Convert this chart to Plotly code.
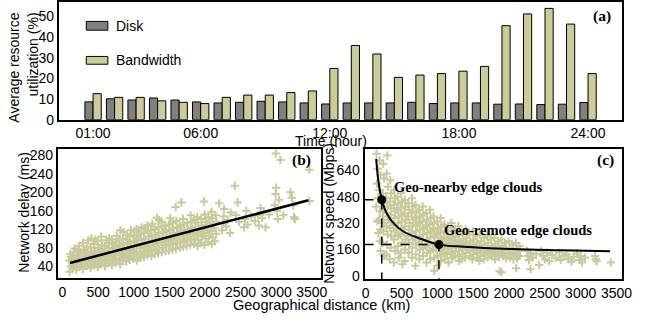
import plotly.graph_objects as go

# ---------------- (a) hourly resource utilization ----------------
hours = list(range(1, 25))
hour_tickvals = [1, 6, 12, 18, 24]
hour_ticktext = ["01:00", "06:00", "12:00", "18:00", "24:00"]
disk_util = [8.6, 10.1, 9.5, 10.5, 9.5, 8.6, 8.1, 8.4, 8.9, 8.6, 8.1, 7.6,
             8.1, 8.1, 8.1, 8.4, 7.8, 8.1, 8.1, 7.5, 7.6, 7.3, 7.5, 8.3]
bw_util = [12.6, 10.8, 10.8, 9.1, 8.4, 7.8, 10.8, 11.9, 11.9, 13.1, 13.9, 24.8,
           35.9, 31.8, 20.5, 21.6, 22.3, 23.5, 25.8, 45.5, 51.2, 53.9, 46.3, 22.3]
util_ticks = [0, 10, 20, 30, 40, 50]

# ---------------- (b) network delay vs distance ----------------
delay_km = [
    102, 118, 95, 124, 110,
    146, 162, 139, 155, 170,
    192, 208, 185, 214, 199, 221,
    243, 258, 236, 266, 249, 231,
    291, 309, 284, 316, 297, 305, 288,
    344, 359, 336, 366, 351, 340, 362,
    393, 410, 386, 417, 401, 395, 408,
    446, 458, 437, 466, 452, 441, 460,
    494, 511, 487, 503, 518, 497, 490,
    541, 559, 536, 566, 547, 553, 544,
    596, 609, 588, 614, 601, 592, 611,
    643, 657, 638, 662, 649, 646, 655,
    694, 712, 687, 705, 716, 698, 691,
    747, 758, 739, 766, 751, 744, 761,
    809, 796, 815, 789, 803, 798, 812,
    843, 859, 836, 866, 851, 847, 855,
    894, 911, 887, 905, 916, 898, 903,
    946, 958, 939, 964, 951, 943, 960,
    993, 1012, 986, 1005, 1017, 997, 1008,
    1044, 1061, 1037, 1055, 1048, 1066, 1041,
    1096, 1109, 1088, 1114, 1101, 1092, 1111,
    1143, 1157, 1138, 1162, 1149, 1146, 1155,
    1194, 1212, 1187, 1205, 1216, 1198, 1191,
    1247, 1258, 1239, 1266, 1251, 1244, 1261,
    1296, 1309, 1288, 1314, 1301, 1292, 1325,
    1343, 1357, 1338, 1362, 1349, 1346, 1355,
    1394, 1412, 1387, 1405, 1416, 1398, 1391,
    1447, 1458, 1439, 1466, 1451, 1444,
    1496, 1509, 1488, 1514, 1501, 1492, 1511,
    1543, 1557, 1538, 1562, 1549, 1546,
    1594, 1612, 1587, 1605, 1616, 1598, 1590,
    1647, 1658, 1639, 1666, 1651, 1670,
    1696, 1709, 1688, 1714, 1701, 1692,
    1743, 1757, 1738, 1762, 1749,
    1794, 1812, 1787, 1805, 1816, 1798,
    1847, 1858, 1839, 1866, 1851,
    1896, 1909, 1888, 1914, 1901, 1892,
    1943, 1957, 1938, 1962, 1949, 1985,
    1994, 2012, 1987, 2005, 2016, 1998,
    2047, 2058, 2039, 2066, 2051,
    2096, 2109, 2088, 2114, 2101, 2092,
    2143, 2157, 2138, 2162, 2149,
    2240, 2250, 2262, 2270, 2300, 2320, 2352, 2360, 2420, 2432,
    2460, 2480, 2550, 2562, 2580, 2600, 2650, 2700, 2742, 2758,
    2780, 2800, 2822, 2850, 2900, 2980, 2992, 3000, 3010, 3022,
    3040, 2995, 3058, 3100, 3200, 3220, 3240, 3250, 3262, 3466,
    3468, 2200,
]
delay_ms = [
    28, 40, 52, 60, 66,
    35, 45, 55, 70, 78,
    32, 42, 50, 58, 64, 74,
    38, 46, 56, 62, 70, 84,
    34, 44, 52, 60, 68, 76, 90,
    40, 48, 55, 63, 72, 82, 96,
    36, 46, 54, 62, 70, 80, 100,
    42, 50, 58, 66, 74, 88, 98,
    38, 48, 56, 64, 72, 80, 94,
    44, 52, 60, 68, 78, 86, 104,
    40, 50, 58, 66, 74, 84, 96,
    46, 54, 62, 70, 80, 90, 100,
    42, 52, 60, 68, 78, 88, 98,
    48, 56, 64, 74, 82, 92, 106,
    44, 54, 66, 76, 86, 96, 118,
    52, 60, 70, 80, 90, 100, 114,
    50, 58, 68, 78, 88, 98, 108,
    54, 62, 72, 82, 92, 104, 118,
    56, 64, 74, 84, 94, 106, 116,
    52, 62, 72, 86, 96, 108, 120,
    58, 66, 78, 88, 98, 110, 124,
    60, 70, 80, 90, 100, 112, 122,
    64, 72, 82, 92, 104, 116, 128,
    62, 74, 84, 94, 106, 118, 132,
    66, 76, 86, 96, 108, 120, 145,
    68, 78, 90, 100, 112, 124, 140,
    70, 80, 92, 102, 114, 126, 136,
    72, 84, 94, 104, 116, 128,
    74, 86, 96, 106, 118, 130, 144,
    76, 88, 98, 110, 122, 134,
    78, 90, 100, 112, 124, 138, 168,
    80, 92, 104, 116, 128, 178,
    82, 94, 106, 118, 130, 142,
    84, 96, 108, 120, 134,
    86, 98, 110, 122, 136, 150,
    88, 100, 112, 126, 140,
    84, 96, 108, 120, 134, 146,
    90, 104, 116, 128, 142, 180,
    86, 100, 112, 124, 136, 152,
    92, 106, 118, 132, 146,
    88, 102, 116, 130, 144, 158,
    94, 110, 122, 136, 150,
    118, 132, 148, 164, 126, 140, 112, 156, 214, 150,
    178, 136, 124, 142, 160, 130, 148, 138, 150, 128,
    166, 144, 158, 124, 152, 172, 196, 210, 160, 142,
    184, 284, 270, 150, 200, 188, 172, 146, 142, 249,
    181, 176,
]
delay_fit_km = [105, 3453]
delay_fit_ms = [47, 182.6]
km_ticks = [0, 500, 1000, 1500, 2000, 2500, 3000, 3500]
delay_ticks = [40, 80, 120, 160, 200, 240, 280]

# ---------------- (c) network speed vs distance ----------------
speed_km = [
    152, 168, 158, 172, 147, 163, 176,
    196, 208, 191, 213, 202, 187, 205, 198, 210,
    246, 257, 239, 262, 251, 243, 255, 248, 236, 259,
    301, 294, 309, 286, 304, 297, 312, 291, 306, 299, 288,
    344, 357, 339, 361, 348, 353, 342, 359, 346, 336,
    396, 408, 391, 412, 402, 388, 405, 399, 414, 393,
    446, 457, 441, 461, 452, 438, 455, 449, 462,
    494, 508, 489, 511, 502, 497, 486, 505, 492, 513,
    546, 557, 541, 561, 552, 538, 555, 549, 544,
    596, 608, 591, 612, 602, 588, 605, 599,
    646, 657, 641, 661, 652, 638, 655, 649, 644,
    696, 708, 691, 712, 702, 688, 705, 699, 693,
    746, 757, 741, 761, 752, 738, 755, 749,
    796, 808, 791, 812, 802, 788, 805, 799,
    846, 857, 841, 861, 852, 838, 855, 849,
    896, 908, 891, 912, 902, 888, 905, 899,
    946, 957, 941, 961, 952, 938, 955, 955,
    996, 1008, 991, 1012, 1002, 988, 1005, 999,
    1046, 1057, 1041, 1061, 1052, 1038, 1055, 1049,
    1096, 1108, 1091, 1112, 1102, 1088, 1105,
    1146, 1157, 1141, 1161, 1152, 1138, 1155,
    1196, 1208, 1191, 1212, 1202, 1188, 1205,
    1246, 1257, 1241, 1261, 1252, 1238,
    1296, 1308, 1291, 1312, 1302, 1288, 1305,
    1346, 1357, 1341, 1361, 1352, 1338,
    1396, 1408, 1391, 1412, 1402, 1388,
    1446, 1457, 1441, 1461, 1452,
    1496, 1508, 1491, 1512, 1502, 1488,
    1546, 1557, 1541, 1561, 1552,
    1596, 1608, 1591, 1612, 1602, 1588,
    1646, 1657, 1641, 1661, 1652,
    1696, 1708, 1691, 1712, 1702,
    1746, 1757, 1741, 1761,
    1796, 1808, 1791, 1812, 1802,
    1846, 1857, 1841, 1861,
    1896, 1908, 1891, 1912, 1896,
    1946, 1957, 1941, 1961,
    1996, 2008, 1991, 2012,
    2046, 2057, 2041, 2061,
    2096, 2108, 2091, 2112, 2100,
    2146, 2157, 2141,
    2250, 2262, 2280, 2300, 2330, 2380, 2420, 2450, 2480, 2500,
    2530, 2560, 2600, 2650, 2700, 2720, 2760, 2800, 2830, 2870,
    2900, 2950, 2980, 3000, 3020, 3060, 3200, 3210, 3222, 3420,
    1868, 2300,
]
speed_mbps = [
    740, 650, 560, 470, 420, 330, 260,
    700, 610, 520, 450, 390, 340, 280, 210, 150,
    680, 590, 500, 440, 400, 360, 320, 270, 200, 120,
    730, 620, 540, 470, 420, 380, 340, 300, 250, 190, 130,
    580, 500, 450, 410, 370, 330, 290, 240, 170, 100,
    520, 470, 430, 390, 350, 310, 270, 220, 150, 80,
    480, 440, 400, 360, 320, 280, 240, 180, 110,
    500, 450, 410, 370, 330, 290, 250, 200, 140, 70,
    460, 420, 380, 340, 300, 260, 220, 160, 90,
    440, 400, 360, 320, 280, 240, 200, 140,
    470, 420, 380, 340, 300, 260, 220, 170, 110,
    430, 390, 350, 310, 270, 230, 190, 130, 60,
    400, 360, 320, 280, 240, 200, 160, 100,
    420, 370, 330, 290, 250, 210, 170, 120,
    380, 340, 300, 260, 220, 180, 140, 80,
    400, 350, 310, 270, 230, 190, 150, 100,
    360, 320, 280, 240, 200, 160, 110, 30,
    330, 290, 250, 210, 180, 150, 120, 60,
    350, 300, 260, 220, 190, 160, 130, 90,
    310, 270, 230, 200, 170, 140, 100,
    290, 250, 220, 190, 160, 130, 80,
    320, 270, 230, 200, 170, 140, 110,
    280, 240, 210, 180, 150, 120,
    300, 250, 210, 180, 150, 120, 90,
    260, 220, 190, 160, 130, 100,
    280, 230, 200, 170, 140, 110,
    250, 210, 180, 150, 120,
    270, 220, 190, 160, 130, 100,
    240, 200, 170, 140, 110,
    250, 210, 180, 150, 120, 90,
    230, 190, 160, 130, 100,
    240, 200, 170, 140, 110,
    220, 180, 150, 120,
    230, 190, 160, 130, 100,
    210, 175, 145, 115,
    220, 180, 150, 120, 22,
    200, 165, 135, 105,
    210, 170, 140, 110,
    190, 160, 130, 100,
    200, 165, 135, 105, 46,
    180, 150, 120,
    150, 120, 95, 140, 110, 130, 65, 150, 120, 100,
    140, 90, 125, 110, 140, 95, 120, 130, 100, 85,
    115, 135, 95, 120, 80, 110, 120, 100, 88, 81,
    27, 40,
]
speed_fit_km = [147, 178, 225, 293, 407, 544, 726, 1023, 1366, 2051, 2736, 3411]
speed_fit_mbps = [709, 575, 461, 379, 310, 264, 231, 189, 176, 162, 155, 149]
marked_km = [225, 1023]
marked_mbps = [461, 189]
marked_labels = ["Geo-nearby edge clouds", "Geo-remote edge clouds"]
speed_ticks = [0, 160, 320, 480, 640]

assert len(delay_km) == len(delay_ms)
assert len(speed_km) == len(speed_mbps)

# ---------------- figure ----------------
W, H = 645, 329
KHAKI = "#c9c99b"
SANS = "Liberation Sans, Arial, sans-serif"
SERIF = "Liberation Serif, Times New Roman, serif"

def px_x(p):
    return p / W

def px_y(p):
    return 1 - p / H

X3_MIN, Y3_MIN = -15, -19

fig = go.Figure()

fig.add_trace(go.Bar(x=hours, y=disk_util, name="Disk",
                     marker=dict(color="#808080", line=dict(color="black", width=1)),
                     xaxis="x", yaxis="y"))
fig.add_trace(go.Bar(x=hours, y=bw_util, name="Bandwidth",
                     marker=dict(color="#cccc99", line=dict(color="black", width=1)),
                     xaxis="x", yaxis="y"))

fig.add_trace(go.Scatter(x=delay_km, y=delay_ms, mode="markers",
                         marker=dict(symbol="cross-thin", size=6,
                                     line=dict(color=KHAKI, width=2)),
                         xaxis="x2", yaxis="y2"))
fig.add_trace(go.Scatter(x=delay_fit_km, y=delay_fit_ms, mode="lines",
                         line=dict(color="black", width=2.5),
                         xaxis="x2", yaxis="y2"))

fig.add_trace(go.Scatter(x=speed_km, y=speed_mbps, mode="markers",
                         marker=dict(symbol="cross-thin", size=6,
                                     line=dict(color=KHAKI, width=2)),
                         xaxis="x3", yaxis="y3"))
for xk, ym in zip(marked_km, marked_mbps):
    fig.add_trace(go.Scatter(x=[X3_MIN, xk, xk], y=[ym, ym, Y3_MIN], mode="lines",
                             line=dict(color="black", width=1.5, dash="dash"),
                             xaxis="x3", yaxis="y3"))
fig.add_trace(go.Scatter(x=speed_fit_km, y=speed_fit_mbps, mode="lines",
                         line=dict(color="black", width=2, shape="spline"),
                         xaxis="x3", yaxis="y3"))
fig.add_trace(go.Scatter(x=marked_km, y=marked_mbps, mode="markers",
                         marker=dict(color="black", size=9),
                         xaxis="x3", yaxis="y3"))

frame = dict(showline=True, mirror=True, linecolor="black", linewidth=2,
             ticks="", showgrid=False, zeroline=False,
             tickfont=dict(family=SANS, size=14, color="black"))

fig.update_layout(
    width=W, height=H, margin=dict(l=0, r=0, t=0, b=0),
    paper_bgcolor="white", plot_bgcolor="white", showlegend=False,
    barmode="group", bargap=0.24, bargroupgap=0,
    font=dict(family=SANS, size=14, color="black"),
    xaxis=dict(domain=[px_x(57), px_x(632)], range=[-0.59, 25.59],
               tickvals=hour_tickvals, ticktext=hour_ticktext, anchor="y", **frame),
    yaxis=dict(domain=[px_y(122), px_y(1)], range=[0, 57],
               tickvals=util_ticks, anchor="x", **frame),
    xaxis2=dict(domain=[px_x(56), px_x(325)], range=[-65, 3636],
                tickvals=km_ticks, anchor="y2", **frame),
    yaxis2=dict(domain=[px_y(284.5), px_y(152)], range=[15, 294],
                tickvals=delay_ticks, anchor="x2", **frame),
    xaxis3=dict(domain=[px_x(369), px_x(632)], range=[X3_MIN, 3580],
                tickvals=km_ticks, anchor="y3", **frame),
    yaxis3=dict(domain=[px_y(285.7), px_y(151.7)], range=[Y3_MIN, 772],
                tickvals=speed_ticks, anchor="x3", **frame),
)

# legend (drawn manually for the wide swatches)
fig.add_shape(type="rect", xref="paper", yref="paper",
              x0=px_x(85), x1=px_x(107), y0=px_y(30), y1=px_y(21),
              fillcolor="#808080", line=dict(color="black", width=1))
fig.add_shape(type="rect", xref="paper", yref="paper",
              x0=px_x(85), x1=px_x(107), y0=px_y(65), y1=px_y(57),
              fillcolor="#cccc99", line=dict(color="black", width=1))

ann = []
def text(t, x, y, size=14, family=SANS, xanchor="center", yanchor="middle",
         angle=0, align="center"):
    ann.append(dict(text=t, x=px_x(x), y=px_y(y), xref="paper", yref="paper",
                    showarrow=False, xanchor=xanchor, yanchor=yanchor,
                    textangle=angle, align=align,
                    font=dict(family=family, size=size, color="black")))

text("Disk", 113, 25.5, xanchor="left")
text("Bandwidth", 113, 61, xanchor="left")
text("Average resource<br>utilization (%)", 21, 69, angle=-90, align="right")
text("Time (hour)", 335, 144)
text("Network delay (ms)", 21, 217, angle=-90)
text("Network speed (Mbps)", 332.5, 218, angle=-90)
text("Geographical distance (km)", 325.5, 313, size=14.5)
text("<b>(a)</b>", 623, 15, size=15.5, family=SERIF, xanchor="right")
text("<b>(b)</b>", 316, 163, size=15.5, family=SERIF, xanchor="right")
text("<b>(c)</b>", 626, 163, size=15.5, family=SERIF, xanchor="right")
text("<b>%s</b>" % marked_labels[0], 397, 191.7, size=14.5, family=SERIF, xanchor="left")
text("<b>%s</b>" % marked_labels[1], 447.7, 235, size=14.5, family=SERIF, xanchor="left")
fig.update_layout(annotations=ann)

fig.write_html("out.html", config={"displayModeBar": False},
               post_script="document.body.style.margin='0';")
